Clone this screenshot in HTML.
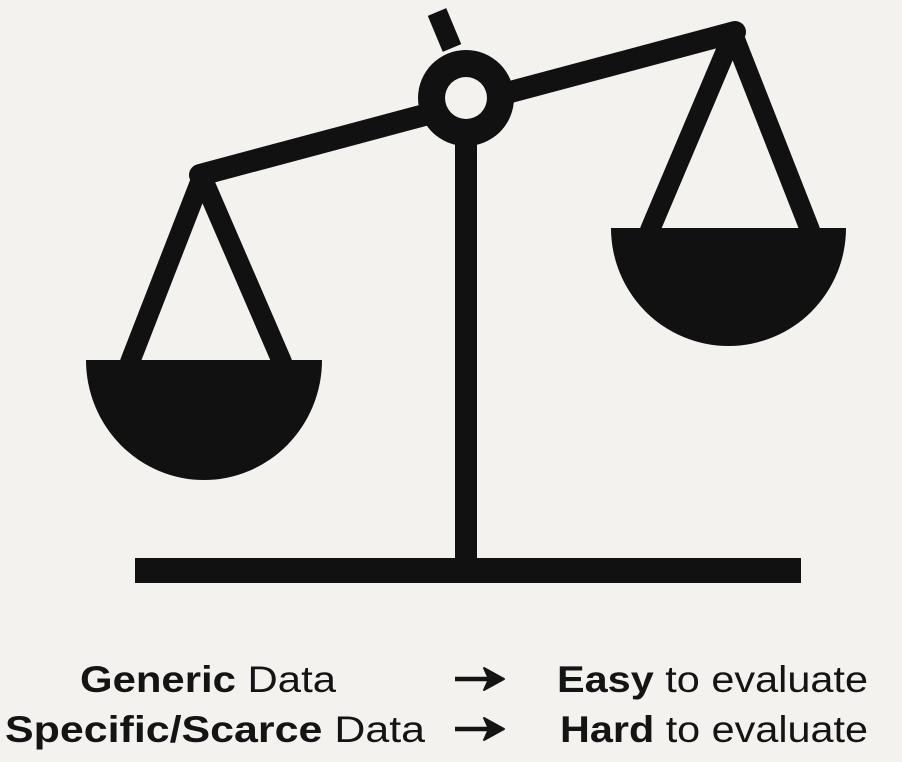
<!DOCTYPE html>
<html><head><meta charset="utf-8"><style>
html,body{margin:0;padding:0;background:#f3f2ef;width:902px;height:762px;overflow:hidden}
svg{display:block}
text{font-family:"Liberation Sans",sans-serif;fill:#141414;font-size:37px}
</style></head><body>
<svg width="902" height="762" viewBox="0 0 902 762">
<rect width="902" height="762" fill="#f3f2ef"/>
<g fill="#111" stroke="#111" stroke-linecap="round" stroke-linejoin="round">
<line x1="437" y1="12" x2="452" y2="48" stroke-width="20" stroke-linecap="butt"/>
<line x1="200" y1="175" x2="735" y2="32" stroke-width="22"/>
<rect x="455" y="120" width="22" height="445" stroke="none"/>
<rect x="135" y="558" width="666" height="25" stroke="none"/>
<polyline points="130,362 202,177 282,362" fill="none" stroke-width="20"/>
<polyline points="650,230 733,34 810,230" fill="none" stroke-width="20"/>
<path d="M86,360 L322,360 A118,120 0 0 1 86,360 Z" stroke="none"/>
<path d="M611,228 L846,228 A117.5,118 0 0 1 611,228 Z" stroke="none"/>
<circle cx="466" cy="98" r="48" stroke="none"/>
</g>
<circle cx="466" cy="98" r="21" fill="#f3f2ef"/>
<g>
<text x="80" y="692" textLength="256" lengthAdjust="spacingAndGlyphs"><tspan font-weight="bold">Generic</tspan> Data</text>
<text x="5" y="742" textLength="420" lengthAdjust="spacingAndGlyphs"><tspan font-weight="bold">Specific/Scarce</tspan> Data</text>
<text x="557" y="692" textLength="311" lengthAdjust="spacingAndGlyphs"><tspan font-weight="bold">Easy</tspan> to evaluate</text>
<text x="560" y="742" textLength="308" lengthAdjust="spacingAndGlyphs"><tspan font-weight="bold">Hard</tspan> to evaluate</text>
</g>
<g fill="#141414" stroke="#141414" stroke-width="4.5" stroke-linejoin="round">
<path d="M455,679 H492"/>
<path d="M484,668 L504,679 L484,690 L489,679 Z" stroke-width="2"/>
<path d="M455,729 H492"/>
<path d="M484,718 L504,729 L484,740 L489,729 Z" stroke-width="2"/>
</g>
</svg>
</body></html>
